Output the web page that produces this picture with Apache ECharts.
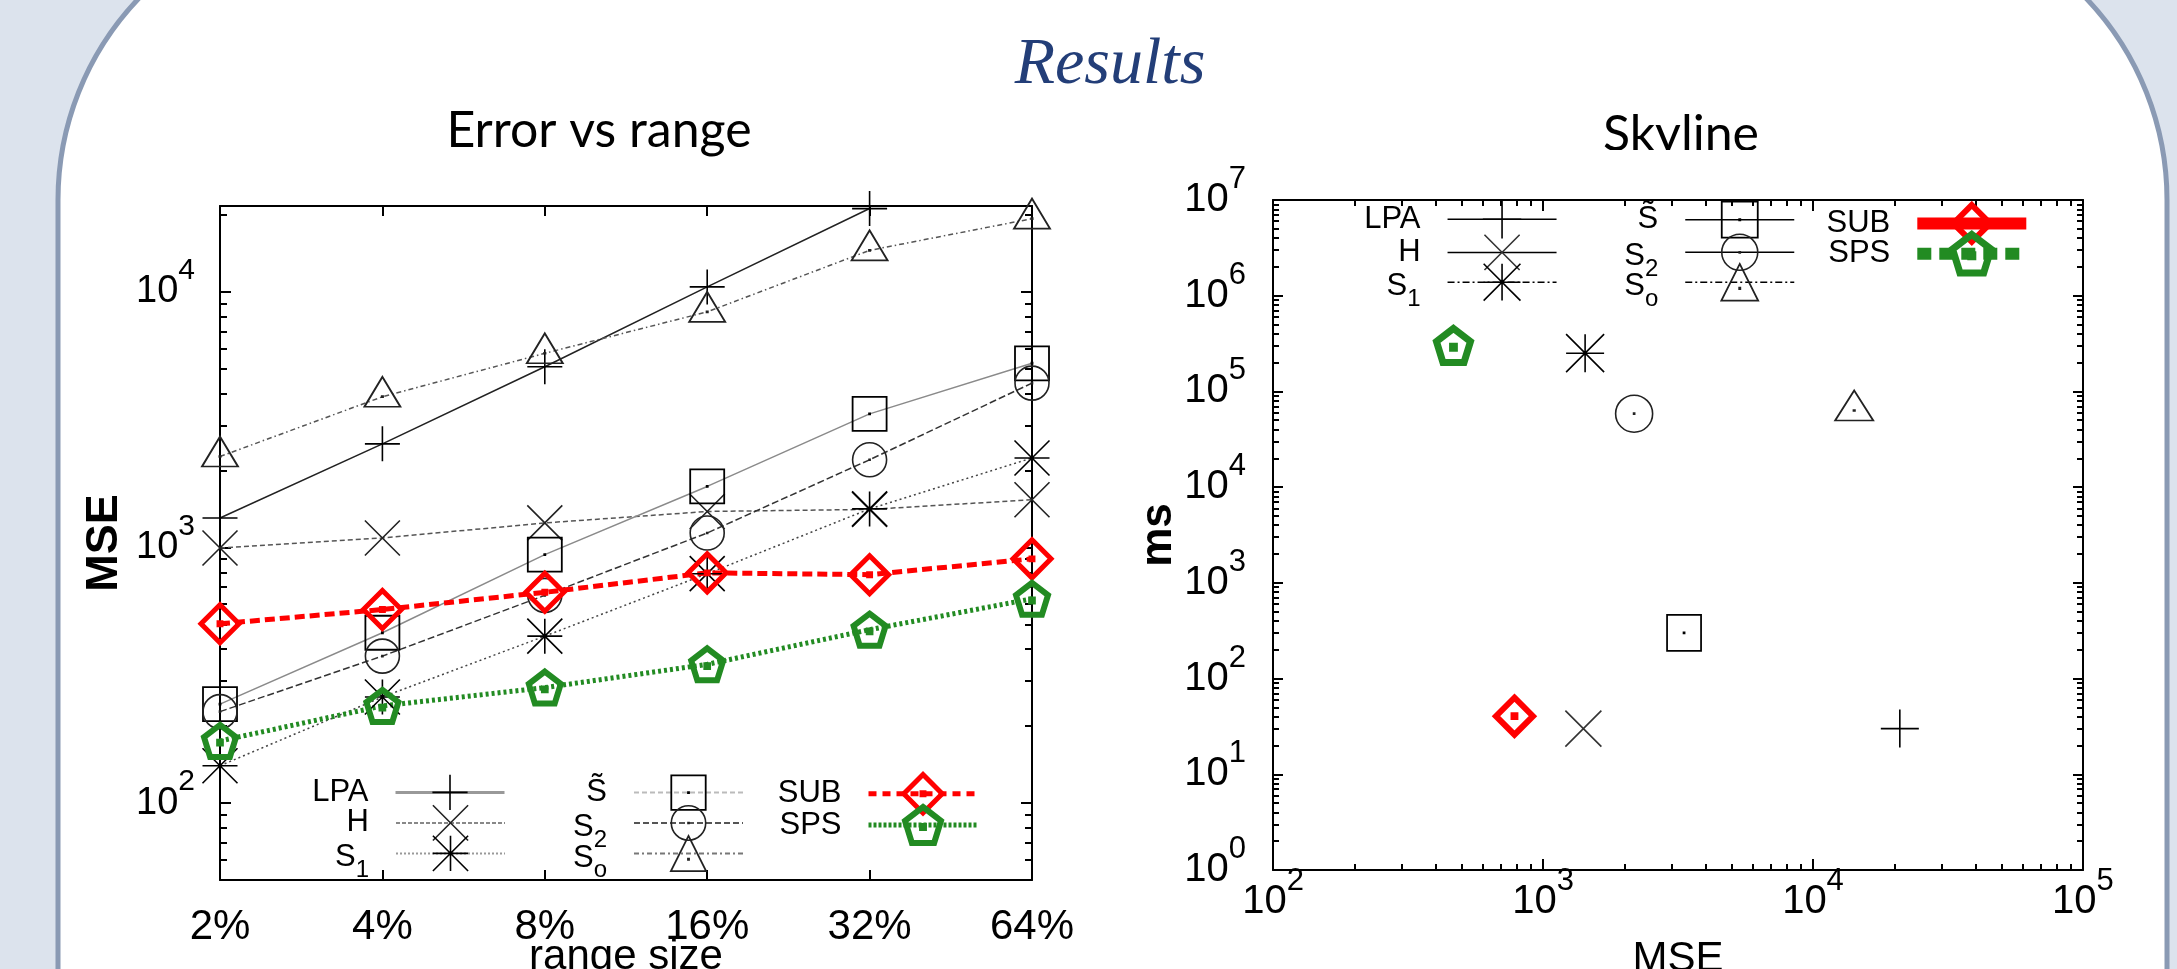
<!DOCTYPE html>
<html><head><meta charset="utf-8">
<script src="https://cdn.jsdelivr.net/npm/echarts@6/dist/echarts.min.js"></script>
<style>html,body{margin:0;padding:0;background:#dce3ed;overflow:hidden}#c{width:2177px;height:969px}</style>
</head><body><div id="c"></div>
<script>
// ---------------- data ----------------
const rangeCategories = ['2%', '4%', '8%', '16%', '32%', '64%'];
const mseLPA    = [1305, 2545, 5100, 10470, 21200, null];
const mseH      = [996, 1090, 1248, 1384, 1410, 1538];
const mseS1     = [140, 260, 450, 790, 1416, 2240];
const mseStilde = [244, 464, 938, 1734, 3335, 5260];
const mseS2     = [228, 376, 650, 1140, 2205, 4400];
const mseSo     = [2270, 3890, 5755, 8360, 14550, 19360];
const mseSUB    = [503, 572, 668, 796, 783, 903];
const mseSPS    = [175, 240, 283, 349, 477, 630];

const skylineMethods = ['LPA', 'H', 'S1', 'S~', 'S2', 'So', 'SUB', 'SPS'];
const skylineMSE = [20970, 1411, 1432, 3330, 2175, 14210, 784, 466];
const skylineMs  = [30, 30, 251000, 300, 58500, 63200, 40.5, 302000];

const mseMajorTicks = [100, 1000, 10000];
const mseMinorTicks = [60, 70, 80, 90, 200, 300, 400, 500, 600, 700, 800, 900,
  2000, 3000, 4000, 5000, 6000, 7000, 8000, 9000, 20000];
const skyXMajorTicks = [100, 1000, 10000, 100000];
const skyYMajorTicks = [1, 10, 100, 1000, 10000, 100000, 1000000, 10000000];
function minorTicksOf(majors) {
  const out = [];
  for (let i = 0; i < majors.length - 1; i++) for (let k = 2; k <= 9; k++) out.push(majors[i] * k);
  return out;
}
const skyXMinorTicks = minorTicksOf(skyXMajorTicks);
const skyYMinorTicks = minorTicksOf(skyYMajorTicks);

// ---------------- styling ----------------
const FONT = "'Liberation Sans', Arial, sans-serif";
const SYM = {
  plus: 'path://M0,10H20M10,0V20',
  cross: 'path://M0,0L20,20M20,0L0,20',
  star: 'path://M0,0L20,20M20,0L0,20M0,10H20M10,0V20',
  square: 'path://M0,0H20V20H0ZM9.7,9.7H10.3V10.3H9.7Z',
  circle: 'path://M20,10A10,10,0,1,1,0,10A10,10,0,1,1,20,10ZM9.7,9.7H10.3V10.3H9.7Z',
  triangle: 'path://M10,0L20,17.3H0ZM9.7,11.2H10.3V11.8H9.7Z',
  diamond: 'path://M10,0L20,10L10,20L0,10ZM9.5,9.5H10.5V10.5H9.5Z',
  pentagon: 'path://M10,0L19.51,6.91L15.88,18.09L4.12,18.09L0.49,6.91ZM9.5,9.5H10.5V10.5H9.5Z'
};
const RED = '#ff0000', GREEN = '#228b22';
const mk = (c, w) => ({ color: 'rgba(0,0,0,0)', borderColor: c, borderWidth: w });

function powLabel(v) {
  const e = Math.round(Math.log10(v));
  return '{b|10}{s|' + e + '}';
}
function powRich(big, small) {
  return {
    b: { fontFamily: FONT, fontSize: big, lineHeight: big, verticalAlign: 'bottom', color: '#000' },
    s: { fontFamily: FONT, fontSize: small, lineHeight: small, verticalAlign: 'bottom', padding: [0, 0, 25, 0], color: '#000' }
  };
}
const tickStyle = { color: '#000', width: 2 };
const lineAx = { show: true, onZero: false, lineStyle: { color: '#000', width: 2 } };
const noSplit = { show: false };

function logAxis(gridIndex, min, max, position, ticks, len, opts) {
  return Object.assign({
    type: 'log', gridIndex, min, max, position, logBase: 10,
    axisLine: opts.line ? lineAx : { show: false },
    axisTick: { show: true, inside: true, length: len, customValues: ticks, lineStyle: tickStyle },
    axisLabel: { show: false },
    splitLine: noSplit, nameMoveOverlap: false
  }, opts.extra || {});
}

// ---------------- axes ----------------
const xAxes = [
  { type: 'category', gridIndex: 0, data: rangeCategories, boundaryGap: false, position: 'bottom',
    axisLine: lineAx,
    axisTick: { show: true, inside: true, length: 10, interval: 0, lineStyle: tickStyle },
    axisLabel: { interval: 0, margin: 26, fontFamily: FONT, fontSize: 42, color: '#000' },
    splitLine: noSplit,
    name: 'range size', nameLocation: 'middle', nameGap: 56, nameMoveOverlap: false,
    nameTextStyle: { fontFamily: FONT, fontSize: 42, color: '#000' } },
  { type: 'category', gridIndex: 0, data: rangeCategories, boundaryGap: false, position: 'top',
    axisLine: lineAx,
    axisTick: { show: true, inside: true, length: 10, interval: 0, lineStyle: tickStyle },
    axisLabel: { show: false }, splitLine: noSplit },
  logAxis(1, 99.99, 100010, 'bottom', skyXMajorTicks, 11, { line: true, extra: {
    axisLabel: { show: true, customValues: skyXMajorTicks, formatter: powLabel, margin: 12, rich: powRich(40, 31) },
    name: 'MSE', nameLocation: 'middle', nameGap: 68,
    nameTextStyle: { fontFamily: FONT, fontSize: 42, color: '#000' } } }),
  logAxis(1, 99.99, 100010, 'bottom', skyXMinorTicks, 6, { line: false }),
  logAxis(1, 99.99, 100010, 'top', skyXMajorTicks, 11, { line: true }),
  logAxis(1, 99.99, 100010, 'top', skyXMinorTicks, 6, { line: false })
];
const yAxes = [
  logAxis(0, 50, 21700, 'left', mseMajorTicks, 11, { line: true, extra: {
    axisLabel: { show: true, customValues: mseMajorTicks, formatter: powLabel, margin: 25, rich: powRich(38, 30) },
    name: 'MSE', nameLocation: 'middle', nameGap: 93, nameRotate: 90,
    nameTextStyle: { fontFamily: FONT, fontSize: 45, fontWeight: 'bold', color: '#000' } } }),
  logAxis(0, 50, 21700, 'left', mseMinorTicks, 7, { line: false }),
  logAxis(0, 50, 21700, 'right', mseMajorTicks, 11, { line: true }),
  logAxis(0, 50, 21700, 'right', mseMinorTicks, 7, { line: false }),
  logAxis(1, 0.9999, 10001000, 'left', skyYMajorTicks, 10, { line: true, extra: {
    axisLabel: { show: true, customValues: skyYMajorTicks, formatter: powLabel, margin: 27, rich: powRich(40, 31) },
    name: 'ms', nameLocation: 'middle', nameGap: 92, nameRotate: 90,
    nameTextStyle: { fontFamily: FONT, fontSize: 44, fontWeight: 'bold', color: '#000' } } }),
  logAxis(1, 0.9999, 10001000, 'left', skyYMinorTicks, 6, { line: false }),
  logAxis(1, 0.9999, 10001000, 'right', skyYMajorTicks, 10, { line: true }),
  logAxis(1, 0.9999, 10001000, 'right', skyYMinorTicks, 6, { line: false })
];

// ---------------- series ----------------
const leftDefs = [
  { name: 'LPA', data: mseLPA, sym: SYM.plus, size: 35, line: { color: '#222', width: 1.6, type: 'solid' }, item: mk('#000', 1.6) },
  { name: 'H', data: mseH, sym: SYM.cross, size: 35, line: { color: '#555', width: 1.5, type: [5, 3] }, item: mk('#222', 1.6) },
  { name: 'S1', data: mseS1, sym: SYM.star, size: 35, line: { color: '#444', width: 1.5, type: [2, 3] }, item: mk('#000', 1.6) },
  { name: 'S~', data: mseStilde, sym: SYM.square, size: 34, line: { color: '#8a8a8a', width: 1.5, type: 'solid' }, item: mk('#000', 1.8) },
  { name: 'S2', data: mseS2, sym: SYM.circle, size: 34, line: { color: '#333', width: 1.5, type: [7, 3] }, item: mk('#222', 1.6) },
  { name: 'So', data: mseSo, sym: SYM.triangle, size: [36, 30], offset: [0, -5], line: { color: '#555', width: 1.5, type: [5, 3, 1.5, 3] }, item: mk('#222', 1.8) },
  { name: 'SUB', data: mseSUB, sym: SYM.diamond, size: 38, line: { color: RED, width: 5, type: [10, 5] }, item: mk(RED, 5) },
  { name: 'SPS', data: mseSPS, sym: SYM.pentagon, size: 32, line: { color: GREEN, width: 5, type: [3, 3] }, item: mk(GREEN, 6) }
];
const rightStyle = {
  'LPA': { sym: SYM.plus, size: 38, item: mk('#000', 1.6) },
  'H': { sym: SYM.cross, size: 36, item: mk('#333', 1.6) },
  'S1': { sym: SYM.star, size: 38, item: mk('#000', 1.6) },
  'S~': { sym: SYM.square, size: [34, 36], item: mk('#000', 1.8) },
  'S2': { sym: SYM.circle, size: 37, item: mk('#222', 1.6) },
  'So': { sym: SYM.triangle, size: [38, 30], offset: [0, -5], item: mk('#222', 1.8) },
  'SUB': { sym: SYM.diamond, size: 37, item: mk(RED, 6) },
  'SPS': { sym: SYM.pentagon, size: 34, item: mk(GREEN, 7) }
};

const series = [];
leftDefs.forEach(d => series.push({
  type: 'line', name: d.name, xAxisIndex: 0, yAxisIndex: 0, data: d.data,
  symbol: d.sym, symbolSize: d.size, symbolOffset: d.offset || [0, 0], showSymbol: true, showAllSymbol: true,
  lineStyle: d.line, itemStyle: d.item, connectNulls: false, silent: true, animation: false
}));
skylineMethods.forEach((m, i) => {
  const s = rightStyle[m];
  series.push({
    type: 'line', name: 'sky:' + m, xAxisIndex: 2, yAxisIndex: 4,
    data: [[skylineMSE[i], skylineMs[i]]],
    symbol: s.sym, symbolSize: s.size, symbolOffset: s.offset || [0, 0], showSymbol: true,
    lineStyle: { color: '#000', width: 1.5 }, itemStyle: s.item, silent: true, animation: false
  });
});

// ---------------- legends ----------------
const legendLabel = {
  'LPA': '{m|LPA}{g| }', 'H': '{m|H}{g| }', 'S1': '{n|S}{sb|1}{g| }', 'S~': '{m|S\u0303}{g| }',
  'S2': '{n|S}{sb|2}{g| }', 'So': '{n|S}{sb|o}{g| }', 'SUB': '{m|SUB}{g| }', 'SPS': '{m|SPS}{g| }'
};
const legendRich = {
  m: { fontFamily: FONT, fontSize: 31, lineHeight: 36, color: '#000' },
  n: { fontFamily: FONT, fontSize: 31, lineHeight: 34, padding: [6, 0, 0, 0], verticalAlign: 'top', color: '#000' },
  sb: { fontFamily: FONT, fontSize: 24, lineHeight: 24, padding: [22, 0, 0, 0], verticalAlign: 'top', color: '#000' },
  g: { width: 22, fontSize: 10, lineHeight: 10 }
};
function mkLegend(name, right, rowY, itemH, lineStyle, itemStyle) {
  return {
    data: [name], right: right, top: rowY - itemH / 2, orient: 'horizontal', align: 'right',
    padding: 0, itemGap: 0, itemWidth: 109, itemHeight: itemH, selectedMode: false,
    formatter: n => legendLabel[n.replace('sky:', '')],
    textStyle: { fontFamily: FONT, fontSize: 31, color: '#000', rich: legendRich },
    lineStyle: lineStyle, itemStyle: itemStyle, z: 10
  };
}
const legends = [
  mkLegend('LPA', 1671, 796, 44, { color: '#999', width: 3, type: 'solid' }, mk('#000', 1.6)),
  mkLegend('H', 1671, 826.5, 44, { color: '#888', width: 2, type: [4, 2] }, mk('#222', 1.6)),
  mkLegend('S1', 1671, 857, 44, { color: '#999', width: 2, type: [2, 2] }, mk('#000', 1.6)),
  mkLegend('S~', 1433, 796, 43, { color: '#bbb', width: 2, type: [5, 3] }, mk('#000', 1.8)),
  mkLegend('S2', 1433, 826.5, 43, { color: '#555', width: 2, type: [6, 3] }, mk('#222', 1.6)),
  mkLegend('So', 1433, 857, 44, { color: '#777', width: 2, type: [5, 3, 2, 3] }, mk('#222', 1.8)),
  mkLegend('SUB', 1197, 796, 48, { color: RED, width: 5, type: [8, 6] }, mk(RED, 5)),
  mkLegend('SPS', 1197, 826.5, 45, { color: GREEN, width: 5, type: [3, 2] }, mk(GREEN, 6)),
  mkLegend('sky:LPA', 619.7, 223.3, 48, { color: '#000', width: 1.5, type: 'solid' }, mk('#000', 1.6)),
  mkLegend('sky:H', 619.7, 256, 44, { color: '#000', width: 1.5, type: 'solid' }, mk('#333', 1.6)),
  mkLegend('sky:S1', 619.7, 286, 46, { color: '#000', width: 1.5, type: [7, 3, 2, 3] }, mk('#000', 1.6)),
  mkLegend('sky:S~', 382, 223.3, 45, { color: '#000', width: 1.5, type: 'solid' }, mk('#000', 1.8)),
  mkLegend('sky:S2', 382, 256, 45, { color: '#000', width: 1.5, type: 'solid' }, mk('#222', 1.6)),
  mkLegend('sky:So', 382, 286, 46, { color: '#000', width: 1.5, type: [7, 3, 2, 3] }, mk('#222', 1.8)),
  mkLegend('sky:SUB', 144.7, 225, 46, { color: RED, width: 12, type: 'solid' }, mk(RED, 6)),
  mkLegend('sky:SPS', 144.7, 255, 48, { color: GREEN, width: 12, type: [14, 8] }, mk(GREEN, 7))
];

// ---------------- chart ----------------
const chart = echarts.init(document.getElementById('c'), null, { renderer: 'canvas', width: 2177, height: 969 });
chart.setOption({
  animation: false,
  textStyle: { fontFamily: FONT },
  graphic: [
    { type: 'rect', z: -20, silent: true, shape: { x: 0, y: 0, width: 2177, height: 969 }, style: { fill: '#dce3ed' } },
    { type: 'rect', z: -19, silent: true, shape: { x: 58, y: -92, width: 2109, height: 1500, r: 292 },
      style: { fill: '#ffffff', stroke: '#8a9ab4', lineWidth: 5 } },
    { type: 'text', z: 5, x: 1110, y: 66, style: { text: 'Results', fontFamily: "'Liberation Serif', serif", fontStyle: 'italic',
      fontSize: 66, fill: '#233e78', textAlign: 'center', textVerticalAlign: 'middle' } },
    { type: 'text', z: 5, x: 599, y: 131, style: { text: 'Error vs range', fontFamily: 'Lato, sans-serif',
      fontSize: 50, fill: '#000', textAlign: 'center', textVerticalAlign: 'middle' } },
    { type: 'text', z: 5, x: 1681, y: 135, style: { text: 'Skyline', fontFamily: 'Lato, sans-serif',
      fontSize: 50, fill: '#000', textAlign: 'center', textVerticalAlign: 'middle' } },
    { type: 'rect', z: 6, silent: true, shape: { x: 1600, y: 150, width: 170, height: 22 }, style: { fill: '#ffffff' } }
  ],
  grid: [
    { left: 220, top: 206, width: 812, height: 674, containLabel: false, outerBoundsMode: 'none' },
    { left: 1273, top: 200, width: 810, height: 670, containLabel: false, outerBoundsMode: 'none' }
  ],
  xAxis: xAxes,
  yAxis: yAxes,
  legend: legends,
  series: series
});
</script></body></html>
